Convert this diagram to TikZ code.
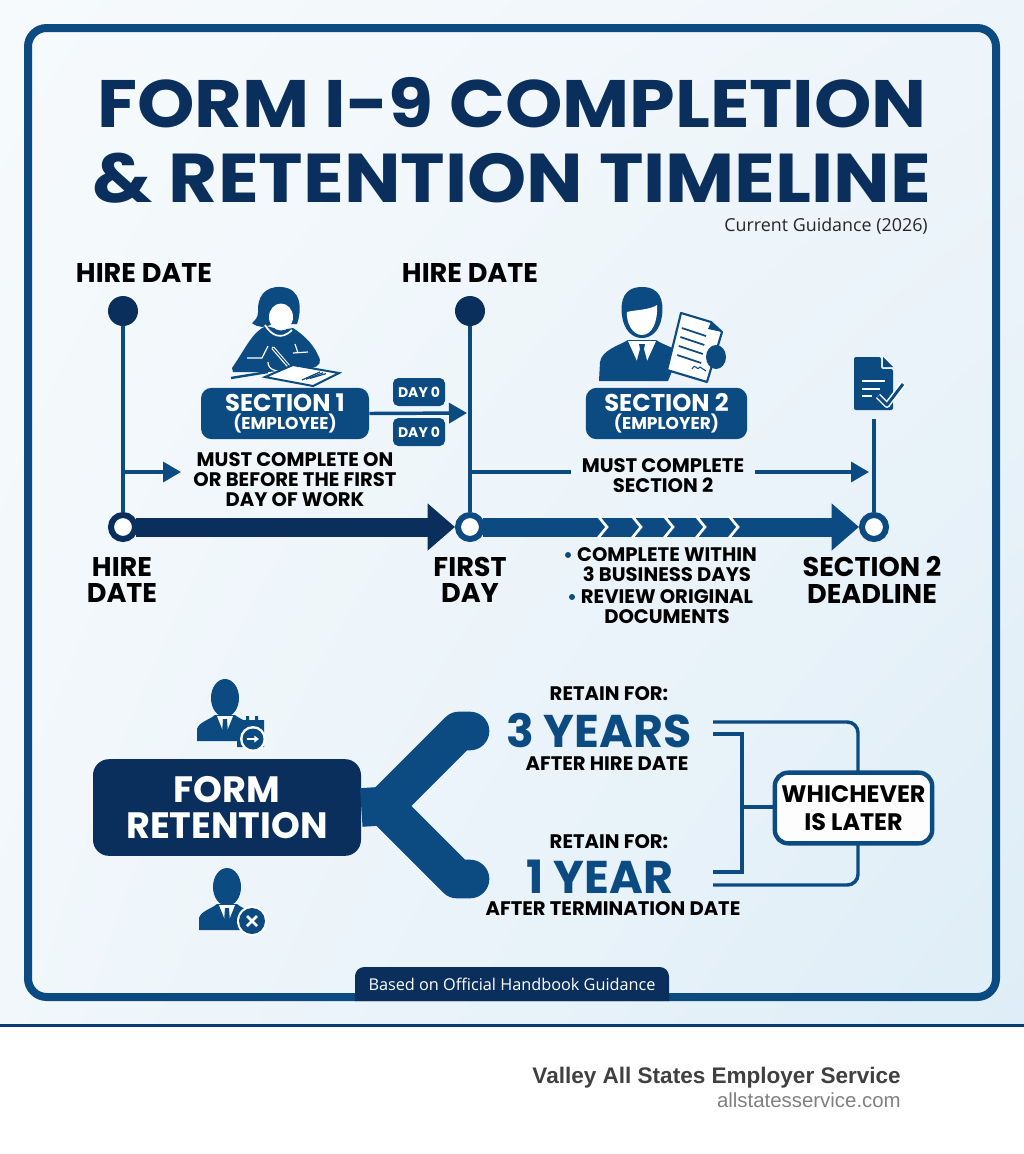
\documentclass[tikz,border=0pt]{standalone}
\usepackage{fontspec}
\setmainfont{Poppins}
\newfontfamily\notefont{Open Sans}
\newfontfamily\footfont{Liberation Sans}
\usetikzlibrary{arrows.meta}
\usetikzlibrary{calc}
\usetikzlibrary{shadings}
\definecolor{navy}{HTML}{0B2F5C}
\definecolor{secblue}{HTML}{0C4A82}
\definecolor{darkline}{HTML}{0A3A73}
\definecolor{bgtl}{HTML}{F6FAFC}
\definecolor{bgtr}{HTML}{EEF5FA}
\definecolor{bgbl}{HTML}{F1F7FB}
\definecolor{bgbr}{HTML}{DEEDF7}
\tikzset{
    bigfont/.style={font=\fontsize{#1}{#1}\bfseries\selectfont},
    label/.style={align=center, text=black, inner sep=0pt, font=\fontsize{20.3}{19.8}\bfseries\selectfont},
    small/.style={align=center, text=black, inner sep=0pt, font=\fontsize{14.7}{15}\bfseries\selectfont},
    secbox/.style={draw=none, fill=secblue, rounded corners=8pt, align=center, text=white, inner sep=0pt},
    daybox/.style={secbox, rounded corners=4pt, minimum width=39pt, minimum height=21pt, font=\fontsize{10.5}{11}\bfseries\selectfont},
    dot/.style={circle, fill=navy, inner sep=0pt, minimum size=22.5pt},
    ring/.style={circle, draw=#1, fill=white, line width=4.5pt, inner sep=0pt, minimum size=18pt},
    thin/.style={draw=secblue, line width=2.6pt},
    head/.style={thin, -{Triangle[length=13.5pt,width=15pt]}},
    thick/.style={line width=14.25pt, draw=#1, shorten <=-1.5pt, -{Triangle[length=20.5pt,width=34pt]}},
    forkline/.style={draw=secblue, line width=29pt, line cap=round, line join=round},
    smallman/.pic={
        \fill[secblue] (0,0) circle[x radius=14, y radius=19];
        \fill[secblue] (-28,43) -- (-28,31) .. controls (-26,24) and (-16,22) .. (-10,17) -- (10,17) .. controls (16,22) and (26,24) .. (28,31) -- (28,43) -- cycle;
        \fill[white] (-8,18) -- (8,18) -- (0,38) -- cycle;
        \fill[secblue] (-2,21) -- (2,21) -- (3,35) -- (0,40) -- (-3,35) -- cycle;
    },
}
\begin{document}
\begin{tikzpicture}[x=0.75pt, y=-0.75pt]
    \useasboundingbox (0,0) rectangle (1024,1154);
    \fill[white] (0,0) rectangle (1024,1154);
    \shade[upper left=bgtl, upper right=bgtr, lower left=bgbl, lower right=bgbr] (0,0) rectangle (1024,1025);
    \draw[darkline, line width=2.6pt] (0,1025.5) -- (1024,1025.5);
    \draw[secblue, line width=6pt, rounded corners=14pt] (28,28) rectangle (996,997);

    % title
    \node[bigfont=50.3, text=navy, inner sep=0pt] (title1) at (512,103) {\scalebox{1.09}[1]{FORM I-9 COMPLETION}};
    \node[bigfont=51.8, text=navy, inner sep=0pt] (title2) at (512,178) {\scalebox{1.09}[1]{\& RETENTION TIMELINE}};
    \node[anchor=east, inner sep=0pt, text=black!85, font=\fontsize{13.4}{14}\notefont\selectfont] (current) at (928,226) {Current Guidance (2026)};

    % timeline
    \node[label] (hiretop) at (144,273) {HIRE DATE};
    \node[label] (firsttop) at (470,273) {HIRE DATE};
    \node[dot] (hiredot) at (123,311) {};
    \node[dot] (firstdot) at (470,311) {};
    \node[ring=navy] (hirering) at (123,527) {};
    \node[ring=secblue] (firstring) at (470,527) {};
    \node[ring=secblue] (deadring) at (874,527) {};
    \coordinate (deadtop) at (874,419);
    \coordinate (hirejoin) at (123,472);
    \coordinate (hiretip) at (181,472);
    \coordinate (firstjoin) at (470,472);
    \coordinate (firsttip) at (467,413);
    \coordinate (deadtip) at (869,472);

    \draw[thin] (hiredot) -- (hirering);
    \draw[thin] (firstdot) -- (firstring);
    \draw[thin] (deadtop) -- (deadring);
    \draw[thick=navy] (hirering) -- (firstring);
    \draw[thick=secblue] (firstring) -- (deadring);
    \foreach \x in {598,632,664,696,729} {
        \draw[white, line width=2pt] (\x,516) -- (\x+9,527) -- (\x,538);
    }

    \node[label] (hirelbl) at (122,580) {HIRE\\DATE};
    \node[label] (firstlbl) at (470,580) {FIRST\\DAY};
    \node[label] (deadlbl) at (872,580) {SECTION 2\\DEADLINE};

    % section boxes
    \node[secbox, minimum width=126pt, minimum height=38.5pt] (sec1box) at (285,413.5)
        {\fontsize{18.2}{18}\bfseries\selectfont SECTION 1\\[1.5pt]\fontsize{12.8}{12}\bfseries\selectfont (EMPLOYEE)};
    \node[secbox, minimum width=121pt, minimum height=38.5pt] (sec2box) at (666.5,413.5)
        {\fontsize{18.2}{18}\bfseries\selectfont SECTION 2\\[1.5pt]\fontsize{12.8}{12}\bfseries\selectfont (EMPLOYER)};
    \node[daybox] (day1) at (419,392) {DAY 0};
    \node[daybox] (day2) at (419,432) {DAY 0};
    \draw[head] (sec1box.east) -- (firsttip);
    \draw[head] (hirejoin) -- (hiretip);

    \node[small] (must1) at (295,480) {MUST COMPLETE ON\\OR BEFORE THE FIRST\\DAY OF WORK};
    \node[small, inner xsep=8pt] (must2) at (663,476) {MUST COMPLETE\\SECTION 2};
    \draw[thin] (firstjoin) -- (must2.west |- firstjoin);
    \draw[head] (must2.east |- firstjoin) -- (deadtip);
    \node[small] (bul1) at (667,565) {COMPLETE WITHIN\\3 BUSINESS DAYS};
    \node[small] (bul2) at (667,607) {REVIEW ORIGINAL\\DOCUMENTS};
    \fill[secblue] (568,555) circle (3) (572,597) circle (3);

    % writer
    \fill[secblue] (281,287) .. controls (264,286) and (257,298) .. (258,312) .. controls (258,318) and (255,320) .. (252,323)
        .. controls (258,328) and (266,328) .. (272,324) -- (297,324) .. controls (302,310) and (302,288) .. (281,287) -- cycle;
    \fill[secblue] (266,326) .. controls (252,332) and (246,348) .. (232,368) -- (233,372) -- (268,372) -- (312,368)
        .. controls (320,366) and (322,362) .. (318,355) .. controls (312,342) and (302,334) .. (293,328) -- (282,330) -- cycle;
    \fill[white] (281,317) circle[x radius=12, y radius=13.5];
    \draw[white, line width=1.3pt] (265,325) .. controls (271,335) and (281,341) .. (292,330);
    \draw[white, line width=0.9pt] (247,358) -- (262,358) -- (268,346);
    \draw[white, line width=0.9pt] (293,353) -- (308,352) (295,344) -- (298,353);
    \draw[white, line width=2.6pt, line cap=round] (273,348) -- (291,369);
    \draw[secblue, line width=0.9pt] (273,348) -- (293,371);
    \draw[white, line width=0.9pt] (268,362) .. controls (268,370) and (276,372) .. (290,372);
    \draw[secblue, line width=1.8pt] (231,378) -- (268,372);
    \draw[secblue, line width=1.5pt, fill=white] (265,377) -- (313,386) -- (339,373) -- (293,365) -- cycle;
    \foreach \i in {0,1,2} {
        \draw[secblue, line width=0.9pt] (302+\i*4,380-\i*0.8) -- (320+\i*3,372+\i*0.8);
    }

    % employer
    \fill[secblue] (642,287) .. controls (624,287) and (620,300) .. (622,316) .. controls (624,330) and (632,338) .. (642,338)
        .. controls (652,338) and (660,330) .. (662,316) .. controls (664,300) and (660,287) .. (642,287) -- cycle;
    \fill[white] (627,312) .. controls (634,310) and (650,310) .. (657,305) .. controls (658,322) and (652,335) .. (642,335)
        .. controls (632,335) and (626,322) .. (627,312) -- cycle;
    \fill[secblue] (599,381) -- (600,362) .. controls (602,350) and (618,346) .. (628,340) -- (656,340)
        .. controls (664,345) and (672,347) .. (680,352) -- (668,381) -- cycle;
    \fill[white] (628,341) -- (656,341) -- (642,372) -- cycle;
    \fill[secblue] (639,344) -- (645,344) -- (644,349) -- (648,364) -- (642,373) -- (636,364) -- (640,349) -- cycle;
    \draw[secblue, line width=1.6pt, fill=white, line join=round] (681,313) -- (711,322) -- (722,332) -- (707,382) -- (667,370) -- cycle;
    \fill[secblue] (711,322) -- (722,332) -- (708,329) -- cycle;
    \foreach \i in {0,1,2,3} {
        \draw[secblue, line width=1.3pt] (680-\i*1.6+2,328+\i*9) -- (706-\i*1.6-\i*0,336+\i*9);
    }
    \fill[secblue] (716,357) circle[x radius=10, y radius=12];
    \draw[secblue, line width=0.8pt] (692,369) .. controls (696,362) and (696,372) .. (700,367) -- (706,371);

    % section 2 doc
    \fill[secblue, rounded corners=1.5pt] (854,357) -- (881,357) -- (881,369) -- (893,369) -- (893,410) -- (854,410) -- cycle;
    \fill[secblue] (883,357) -- (893,367) -- (883,367) -- cycle;
    \draw[white, line width=1.5pt] (862,381) -- (885,381) (862,389) -- (880,389) (862,396) -- (872,396);
    \draw[white, line width=4.5pt, line join=round] (878,396) -- (887,405) -- (903,384);
    \draw[secblue, line width=2.2pt, line join=round] (878,396) -- (887,405) -- (903,384);

    % retention
    \node[secbox, fill=navy, rounded corners=12pt, minimum width=201pt, minimum height=72.5pt, font=\fontsize{27.5}{27}\bfseries\selectfont] (retention) at (227,807.5) {FORM\\RETENTION};
    \coordinate (forkpt) at (384,806);
    \coordinate (threecap) at (470,731);
    \coordinate (onecap) at (470,879);
    \draw[forkline] (forkpt) -- ++(75,-75) -- (threecap);
    \draw[forkline] (forkpt) -- ++(73,73) -- (onecap);
    \draw[forkline, line cap=butt] (retention.east) -- (forkpt);

    \pic at (225,698) {smallman};
    \pic at (227,887) {smallman};
    \fill[secblue] (237,720) -- (246,720) -- (246,716) -- (249,716) -- (249,720) -- (255,720) -- (255,716) -- (258,716) -- (258,720) -- (264,720) -- (264,747) -- (237,747) -- cycle;
    \fill[white] (253,739) circle (13);
    \fill[secblue] (253,739) circle (10.5);
    \draw[white, line width=1.3pt, -{Triangle[length=3.5pt,width=5pt]}] (247,739) -- (259,739);
    \fill[white] (252,921) circle (15);
    \fill[secblue] (252,921) circle (13);
    \draw[white, line width=1.9pt] (247,916) -- (257,926) (257,916) -- (247,926);

    \node[small] (retain1) at (609,694) {RETAIN FOR:};
    \node[bigfont=34.4, text=secblue, inner sep=0pt] (years3) at (599,731) {3 YEARS};
    \node[small] (after1) at (607,764) {AFTER HIRE DATE};
    \node[small] (retain2) at (609,842) {RETAIN FOR:};
    \node[bigfont=34.4, text=secblue, inner sep=0pt] (year1) at (600,877) {1 YEAR};
    \node[small] (after2) at (613,909) {AFTER TERMINATION DATE};

    \node[draw=secblue, fill=white!70!secblue!3, line width=3.3pt, rounded corners=10pt, minimum width=118pt, minimum height=53pt, inner sep=0pt, align=center, text=black, font=\fontsize{17.9}{20.5}\bfseries\selectfont] (later) at (853.5,808) {WHICHEVER\\IS LATER};
    \coordinate (topstub) at (713,722);
    \coordinate (midstub) at (713,734);
    \coordinate (lowstub) at (713,872);
    \coordinate (botstub) at (713,885);
    \coordinate (barmid) at (742,807);
    \draw[thin, rounded corners=8pt] (topstub) -- (858,722) -- (858,771);
    \draw[thin, rounded corners=8pt] (botstub) -- (858,885) -- (858,845);
    \draw[thin] (midstub) -- (742,734) -- (742,872) -- (lowstub);
    \draw[thin] (barmid) -- (later.west |- barmid);

    % tab and footer
    \fill[navy] (355,1001) {[rounded corners=7pt] -- (355,967) -- (669,967)} -- (669,1001) -- cycle;
    \node[inner sep=0pt, text=white, font=\fontsize{12.2}{14}\notefont\selectfont] (basedon) at (512,984) {Based on Official Handbook Guidance};
    \node[anchor=east, inner sep=0pt, text=black!75, font=\fontsize{16.9}{20}\footfont\bfseries\selectfont] (valley) at (901,1078) {Valley All States Employer Service};
    \node[anchor=east, inner sep=0pt, text=black!50, font=\fontsize{15.3}{16}\footfont\selectfont] (website) at (901,1100) {allstatesservice.com};
\end{tikzpicture}
\end{document}
